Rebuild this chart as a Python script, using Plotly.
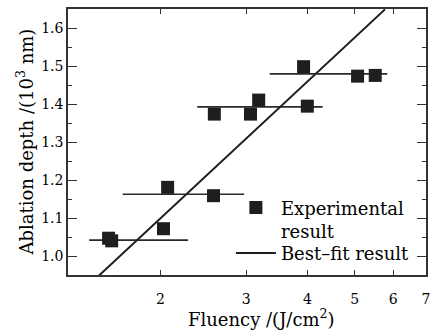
import plotly.graph_objects as go
import math

# Experimental data (fluency in J/cm^2, depth in 10^3 nm)
exp_x = [1.567, 1.590, 2.03, 2.07, 2.57, 2.58, 3.06, 3.18, 4.00, 3.93, 5.07, 5.51]
exp_y = [1.047, 1.040, 1.072, 1.181, 1.159, 1.374, 1.374, 1.411, 1.395, 1.499, 1.474, 1.476]

# Best-fit line end points
fit_x = [1.496, 5.77]
fit_y = [0.948, 1.650]

# Horizontal level segments
step_x = [[1.43, 2.28], [1.675, 2.97], [2.38, 4.30], [3.35, 5.83]]
step_y = [1.042, 1.163, 1.393, 1.480]

x_ticks = [2, 3, 4, 5, 6, 7]
y_ticks = [1.0, 1.1, 1.2, 1.3, 1.4, 1.5, 1.6]

FONT = "DejaVu Serif"
INK = "#1e1e1e"

fig = go.Figure()

for sx, sy in zip(step_x, step_y):
    fig.add_trace(go.Scatter(x=sx, y=[sy, sy], mode="lines",
                             line=dict(color="#2a2a2a", width=1.6),
                             showlegend=False, hoverinfo="skip"))

fig.add_trace(go.Scatter(x=exp_x, y=exp_y, mode="markers",
                         name="Experimental<br>result", legend="legend",
                         marker=dict(symbol="square", size=13, color=INK,
                                     line=dict(width=0))))

fig.add_trace(go.Scatter(x=fit_x, y=fit_y, mode="lines",
                         name="Best\u2013fit result", legend="legend2",
                         line=dict(color=INK, width=2)))

leg_common = dict(xanchor="left", yanchor="top", bgcolor="rgba(0,0,0,0)",
                  borderwidth=0, valign="top", itemwidth=40,
                  font=dict(family=FONT, size=18, color="black"))

fig.update_layout(
    width=437, height=330,
    margin=dict(l=68, r=7, t=9, b=55),
    paper_bgcolor="white", plot_bgcolor="white",
    font=dict(family=FONT, size=14, color="black"),
    showlegend=True,
    legend=dict(x=0.455, y=0.322, **leg_common),
    legend2=dict(x=0.455, y=0.151, **leg_common),
    annotations=[
        dict(text="Fluency /(J/cm<sup>2</sup>)", xref="paper", yref="paper",
             x=(263.5 - 68) / 362, y=-43 / 266, xanchor="center", yanchor="middle",
             showarrow=False, font=dict(family=FONT, size=18, color="black")),
        dict(text="Ablation depth /(10<sup>3</sup> nm)", xref="paper", yref="paper",
             x=(25 - 68) / 362, y=0.5, xanchor="center", yanchor="middle",
             textangle=-90, showarrow=False,
             font=dict(family=FONT, size=18, color="black")),
    ],
)

fig.update_xaxes(type="log", range=[math.log10(1.294), math.log10(7)],
                 tickvals=x_ticks, ticktext=[str(v) for v in x_ticks],
                 ticks="inside", ticklen=5, tickwidth=1, tickcolor="#333",
                 showline=True, linecolor="#333", linewidth=1.5, mirror="ticks",
                 showgrid=False, zeroline=False, ticklabelstandoff=10,
                 tickfont=dict(family=FONT, size=14, color="black"))

fig.update_yaxes(range=[0.95, 1.651], tickvals=y_ticks,
                 ticktext=["%.1f" % v for v in y_ticks],
                 ticks="inside", ticklen=9, tickwidth=1, tickcolor="#333",
                 minor=dict(dtick=0.05, tick0=0.95, ticks="inside", ticklen=4,
                            tickcolor="#333", showgrid=False),
                 showline=True, linecolor="#333", linewidth=1.5, mirror="ticks",
                 showgrid=False, zeroline=False,
                 tickfont=dict(family=FONT, size=14, color="black"))

fig.write_html("out.html")
